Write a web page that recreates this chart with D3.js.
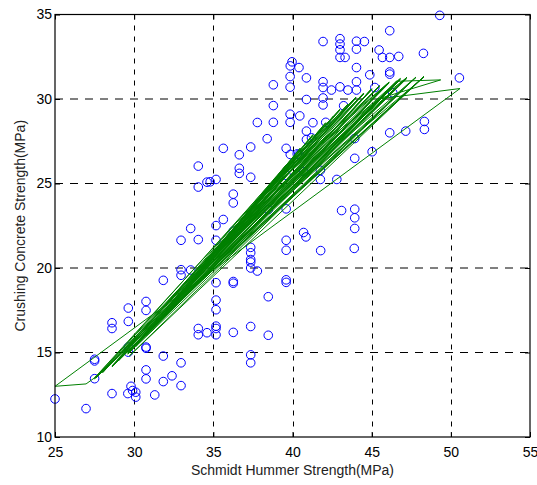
<!DOCTYPE html>
<html>
<head>
<meta charset="utf-8">
<script src="https://cdn.jsdelivr.net/npm/d3@7"></script>
<style>
  body { margin: 0; background: #fff; }
  svg { display: block; }
  .tick-label { font-family: "Liberation Sans", Arial, Helvetica, sans-serif; font-size: 14px; fill: #000; }
  .axis-title { font-family: "Liberation Sans", Arial, Helvetica, sans-serif; font-size: 14px; fill: #222; }
</style>
</head>
<body>
<svg width="537" height="485"></svg>
<script>
// Measured points: Schmidt hammer reading vs crushing strength (MPa)
const hammerX = [
  25.0, 26.96, 27.5, 27.5, 27.5, 28.6, 28.6, 28.6, 29.63, 29.63, 29.63, 29.63,
  29.8, 29.9, 29.6, 30.1, 30.1, 30.75, 30.75, 30.75, 30.75, 30.75, 30.75, 31.3,
  31.84, 31.84, 31.84, 32.39, 32.96, 32.96, 32.96, 32.96, 32.96, 33.57, 33.57,
  34.05, 34.05, 34.6, 34.05, 34.05, 34.05, 34.6, 34.8, 35.17, 35.17, 35.17,
  35.17, 35.17, 35.17, 35.17, 35.17, 35.17, 35.63, 35.63, 36.26, 36.26, 36.26,
  36.26, 36.26, 36.26, 36.64, 36.64, 36.64, 37.36, 37.36, 37.36, 37.36, 37.36,
  37.36, 37.36, 37.78, 37.36, 37.36, 37.36, 37.78, 38.4, 38.47, 38.47, 38.47,
  38.79, 38.79, 38.79, 39.6, 39.6, 39.6, 39.6, 39.6, 39.6, 39.6, 39.85, 39.85,
  39.85, 39.85, 39.86, 39.97, 39.86, 40.41, 40.3, 40.41, 40.46, 40.71, 40.7,
  40.85, 40.88, 40.88, 40.88, 40.88, 41.2, 41.29, 41.76, 41.76, 41.78, 41.93,
  41.93, 41.93, 41.93, 41.93, 42.1, 42.46, 42.8, 43.0, 43.0, 43.0, 43.0, 43.32,
  43.0, 43.1, 43.23, 43.5, 43.93, 43.93, 43.93, 43.93, 43.93, 43.9, 44.04,
  44.04, 44.04, 44.04, 44.04, 44.54, 44.88, 45.03, 45.2, 45.47, 45.68, 46.14,
  46.14, 46.71, 46.14, 46.14, 46.33, 46.14, 47.15, 48.27, 48.33, 48.33, 49.3,
  50.54
];
const crushY = [
  12.25, 11.68, 14.6, 14.5, 13.45, 16.76, 16.42, 12.57, 17.63, 16.84, 15.32, 15.02,
  13.0, 12.75, 12.57, 12.65, 12.36, 18.02, 17.49, 15.32, 15.25, 13.97, 13.44, 12.49,
  14.79, 13.28, 19.27, 13.62, 14.39, 13.04, 19.9, 19.57, 21.64, 19.88, 22.34,
  16.42, 16.05, 16.17, 21.68, 26.03, 24.79, 25.08, 25.1, 25.24, 22.51, 21.64,
  19.13, 18.1, 17.53, 16.56, 16.42, 16.05, 27.08, 22.87, 24.37, 23.85, 22.18,
  19.2, 19.1, 16.19, 26.7, 25.9, 25.6, 27.16, 25.37, 21.22, 20.9, 20.5,
  20.35, 20.0, 19.82, 16.54, 14.86, 14.39, 28.61, 27.65, 23.46, 18.3, 16.02,
  30.84, 29.61, 28.62, 27.08, 25.48, 23.5, 21.64, 21.05, 19.3, 19.15, 31.33, 30.7,
  29.1, 28.62, 26.72, 32.2, 31.96, 31.86, 26.75, 26.72, 29.0, 25.7, 22.1,
  21.84, 31.25, 29.97, 28.1, 27.6, 27.7, 28.6, 25.78, 25.24, 21.03, 33.4,
  31.02, 30.68, 30.06, 29.65, 28.62, 30.53, 25.24, 33.57, 33.25, 32.91, 32.46, 32.46,
  30.72, 23.4, 29.6, 30.53, 27.66, 26.49, 23.48, 22.97, 22.34, 21.16, 33.42,
  32.95, 31.86, 31.02, 30.53, 33.4, 31.43, 26.88, 30.68, 32.9, 32.46, 34.04,
  32.46, 32.52, 31.6, 31.47, 30.37, 28.0, 28.1, 32.7, 28.67, 28.2, 34.95,
  31.25
];

// Model output, drawn in the order of the samples (so the line zigzags)
const fitX = [
  27.5, 46.8, 30.75, 45.0, 28.6, 47.2, 33.0, 44.0, 29.6, 46.1, 35.17, 42.1,
  31.8, 48.3, 27.5, 43.0, 36.3, 46.8, 30.1, 40.5, 34.0, 45.0, 29.6, 41.3,
  37.4, 46.1, 32.4, 44.0, 38.5, 47.2, 28.6, 39.6, 35.17, 48.3, 27.5, 45.5,
  33.6, 46.8, 30.75, 43.9, 36.6, 46.6, 49.36, 45.4, 50.58, 25.0, 26.96, 27.5,
  44.5, 31.3, 47.2, 29.6, 42.6, 34.6, 46.8, 29.0, 38.0, 31.8, 46.1, 34.0,
  40.0, 30.1, 47.8, 35.6, 43.5, 28.0, 44.5, 37.4, 45.5, 32.4, 48.3, 29.7,
  46.6, 33.0, 41.3, 36.3, 47.2, 30.75, 39.0, 27.6, 44.9, 34.6, 46.8, 31.3,
  43.0, 38.5, 46.1, 29.6, 45.0, 33.6, 47.8, 28.6, 42.1, 35.17, 44.0, 30.1,
  46.6
];
const fitY = [
  13.45, 31.2, 16.1, 30.6, 14.2, 31.27, 18.6, 30.1, 15.0, 31.0, 21.0, 28.6,
  17.2, 31.33, 13.5, 29.4, 22.3, 31.15, 15.4, 27.1, 19.7, 30.55, 14.95, 27.9,
  23.6, 31.0, 17.9, 30.1, 24.9, 31.25, 14.15, 26.1, 20.95, 31.3, 13.45, 30.8,
  19.2, 31.2, 16.05, 30.0, 22.7, 31.05, 31.13, 30.0, 30.62, 13.0, 13.14, 13.5,
  30.3, 16.6, 31.27, 15.3, 29.0, 20.3, 31.2, 14.5, 24.2, 17.15, 30.95, 19.65,
  26.5, 15.35, 31.3, 21.4, 29.7, 13.8, 30.35, 23.55, 30.75, 17.85, 31.33, 14.8,
  30.2, 18.55, 27.85, 22.25, 31.2, 16.0, 25.4, 13.5, 29.8, 20.25, 31.15, 16.55,
  29.35, 24.85, 31.0, 14.9, 30.6, 19.15, 31.28, 14.2, 28.55, 20.9, 30.05, 15.4,
  31.1
];

const xTicks = [25, 30, 35, 40, 45, 50, 55];
const yTicks = [10, 15, 20, 25, 30, 35];

const svg = d3.select("svg");
const plotLeft = 55;
const plotRight = 530;
const plotTop = 14.5;
const plotBottom = 437;

const xScale = d3.scaleLinear().domain([25, 55]).range([plotLeft, plotRight]);
const yScale = d3.scaleLinear().domain([10, 35]).range([plotBottom, plotTop]);

// Grid
svg
  .append("g")
  .selectAll("line")
  .data(xTicks.slice(1, -1))
  .enter()
  .append("line")
  .attr("x1", (d) => Math.round(xScale(d)) + 0.5)
  .attr("x2", (d) => Math.round(xScale(d)) + 0.5)
  .attr("y1", plotTop)
  .attr("y2", plotBottom)
  .attr("stroke", "#000")
  .attr("stroke-dasharray", "5,6");

svg
  .append("g")
  .selectAll("line")
  .data(yTicks.slice(1, -1))
  .enter()
  .append("line")
  .attr("x1", plotLeft)
  .attr("x2", plotRight)
  .attr("y1", (d) => yScale(d))
  .attr("y2", (d) => yScale(d))
  .attr("stroke", "#000")
  .attr("stroke-dasharray", "8,7");

// Scatter
svg
  .append("g")
  .selectAll("circle")
  .data(hammerX.map((x, i) => [x, crushY[i]]))
  .enter()
  .append("circle")
  .attr("cx", (d) => xScale(d[0]))
  .attr("cy", (d) => yScale(d[1]))
  .attr("r", 4.3)
  .attr("fill", "none")
  .attr("stroke", "#0000ff")
  .attr("stroke-width", 1);

// Fitted line
const line = d3
  .line()
  .x((d) => xScale(d[0]))
  .y((d) => yScale(d[1]));
svg
  .append("path")
  .datum(fitX.map((x, i) => [x, fitY[i]]))
  .attr("d", line)
  .attr("fill", "none")
  .attr("stroke", "#008000")
  .attr("stroke-width", 1)
  .attr("stroke-linejoin", "miter");

// X axis (ticks point inward, MATLAB style)
const xAxis = svg
  .append("g")
  .attr("transform", "translate(0," + plotBottom + ")")
  .call(d3.axisBottom(xScale).tickValues(xTicks).tickSize(-5).tickPadding(10));
xAxis.select(".domain").remove();
xAxis.selectAll("text").attr("class", "tick-label").attr("font-size", null).attr("font-family", null);

svg
  .append("g")
  .attr("transform", "translate(0," + plotTop + ")")
  .call(d3.axisTop(xScale).tickValues(xTicks).tickSize(-5).tickFormat(""))
  .select(".domain")
  .remove();

// Y axis
const yAxis = svg
  .append("g")
  .attr("transform", "translate(" + plotLeft + ",0)")
  .call(d3.axisLeft(yScale).tickValues(yTicks).tickSize(-5).tickPadding(3));
yAxis.select(".domain").remove();
yAxis.selectAll("text").attr("class", "tick-label").attr("font-size", null).attr("font-family", null);

svg
  .append("g")
  .attr("transform", "translate(" + plotRight + ",0)")
  .call(d3.axisRight(yScale).tickValues(yTicks).tickSize(-5).tickFormat(""))
  .select(".domain")
  .remove();

// Box
svg
  .append("rect")
  .attr("x", plotLeft)
  .attr("y", plotTop)
  .attr("width", plotRight - plotLeft)
  .attr("height", plotBottom - plotTop)
  .attr("fill", "none")
  .attr("stroke", "#000")
  .attr("stroke-width", 1.2);

// Axis titles
svg
  .append("text")
  .attr("class", "axis-title")
  .attr("x", (plotLeft + plotRight) / 2)
  .attr("y", 475)
  .attr("text-anchor", "middle")
  .text("Schmidt Hummer Strength(MPa)");

svg
  .append("text")
  .attr("class", "axis-title")
  .attr("text-anchor", "middle")
  .attr("transform", "translate(25," + (plotTop + plotBottom) / 2 + ")rotate(-90)")
  .text("Crushing Concrete Strength(MPa)");
</script>
</body>
</html>
